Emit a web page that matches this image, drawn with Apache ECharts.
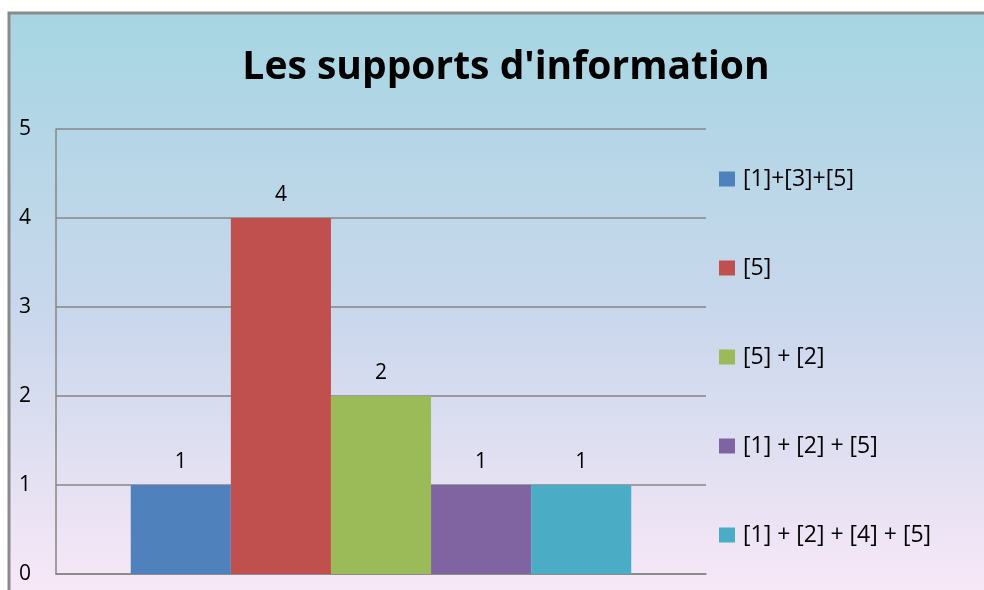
<!DOCTYPE html>
<html>
<head>
<meta charset="utf-8">
<script src="https://cdn.jsdelivr.net/npm/echarts@6/dist/echarts.min.js"></script>
<style>
  html, body { margin: 0; padding: 0; background: #fff; }
  #main { width: 984px; height: 590px; }
</style>
</head>
<body>
<div id="main"></div>
<script>
// données du graphique
var seriesNames = ['[1]+[3]+[5]', '[5]', '[5] + [2]', '[1] + [2] + [5]', '[1] + [2] + [4] + [5]']
var seriesValues = [1, 4, 2, 1, 1]
var colors = ['#4f81bd', '#c0504d', '#9bbb59', '#8064a2', '#4bacc6']
var yTicks = [0, 1, 2, 3, 4, 5]

var fontName = 'Open Sans'
var chart = echarts.init(document.getElementById('main'))

var series = []
for (let i = 0; i < seriesNames.length; i++) {
  series.push({
    name: seriesNames[i],
    type: 'bar',
    barGap: 0,
    barCategoryGap: '23%',
    itemStyle: { color: colors[i] },
    label: {
      show: true,
      position: 'top',
      distance: 12,
      color: '#000',
      fontFamily: fontName,
      fontSize: 21,
    },
    data: [seriesValues[i]],
  })
}

var option = {
  backgroundColor: '#fff',
  animation: false,
  graphic: [
    {
      type: 'rect',
      z: -10,
      shape: { x: 9, y: 13, width: 1000, height: 600 },
      style: {
        fill: new echarts.graphic.LinearGradient(0, 0, 0, 1, [
          { offset: 0, color: '#a6d6e2' },
          { offset: 0.5, color: '#c9d7ec' },
          { offset: 1, color: '#fbe9f8' },
        ]),
        stroke: '#8a8a8a',
        lineWidth: 3,
      },
    },
  ],
  title: {
    text: "Les supports d'information",
    left: 501,
    textAlign: 'center',
    top: 43,
    textStyle: {
      fontFamily: fontName,
      fontWeight: 'bold',
      fontSize: 39,
      color: '#000',
    },
  },
  legend: {
    orient: 'vertical',
    left: 719,
    top: 167,
    padding: 0,
    itemWidth: 16,
    itemHeight: 15,
    itemGap: 65,
    icon: 'rect',
    textStyle: {
      fontFamily: fontName,
      fontSize: 23,
      lineHeight: 24,
      color: '#000',
      padding: [0, 0, 0, 3],
    },
    data: seriesNames,
  },
  grid: {
    left: 56,
    right: 278,
    top: 129,
    bottom: 16,
  },
  xAxis: {
    type: 'category',
    data: [''],
    axisLine: { show: true, lineStyle: { color: '#868686', width: 1.5 } },
    axisTick: { show: false },
    axisLabel: { show: false },
  },
  yAxis: {
    type: 'value',
    min: yTicks[0],
    max: yTicks[yTicks.length - 1],
    interval: 1,
    axisLine: { show: true, lineStyle: { color: '#868686', width: 1.5 } },
    axisTick: { show: false },
    axisLabel: {
      margin: 37,
      color: '#000',
      fontFamily: fontName,
      fontSize: 21,
      align: 'left',
    },
    splitLine: { show: true, lineStyle: { color: '#868686', width: 1.5 } },
  },
  series: series,
}
chart.setOption(option)
</script>
</body>
</html>
